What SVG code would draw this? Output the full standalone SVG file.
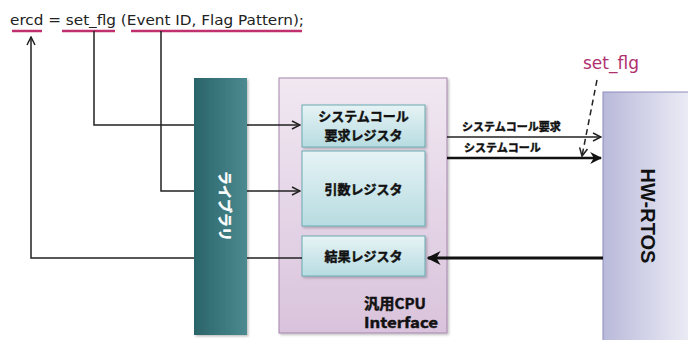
<svg xmlns="http://www.w3.org/2000/svg" width="688" height="340" viewBox="0 0 688 340">
<defs>
<linearGradient id="gLib" x1="0" y1="0" x2="1" y2="0"><stop offset="0" stop-color="#2a6469"/><stop offset="1" stop-color="#4b8a90"/></linearGradient>
<linearGradient id="gCpu" x1="0" y1="0" x2="0" y2="1"><stop offset="0" stop-color="#f1e8f2"/><stop offset="1" stop-color="#d9c3dc"/></linearGradient>
<linearGradient id="gReg" x1="0" y1="0" x2="0" y2="1"><stop offset="0" stop-color="#e6f3f5"/><stop offset="1" stop-color="#b7dce1"/></linearGradient>
<linearGradient id="gRtos" x1="0" y1="0" x2="1" y2="0"><stop offset="0" stop-color="#b9b9da"/><stop offset="1" stop-color="#eeeef7"/></linearGradient>
<marker id="aOpen" viewBox="0 0 10 10" refX="9" refY="5" markerWidth="10" markerHeight="10" markerUnits="userSpaceOnUse" orient="auto"><path d="M1,1 L9,5 L1,9" fill="none" stroke="#222" stroke-width="1.5"/></marker>
<marker id="aFill" viewBox="0 0 10 10" refX="9" refY="5" markerWidth="12" markerHeight="12" markerUnits="userSpaceOnUse" orient="auto"><path d="M0,0 L10,5 L0,10 L3,5 Z" fill="#111"/></marker>
<marker id="aBig" viewBox="0 0 10 10" refX="9" refY="5" markerWidth="14" markerHeight="14" markerUnits="userSpaceOnUse" orient="auto"><path d="M0,0 L10,5 L0,10 L3,5 Z" fill="#111"/></marker>
<filter id="sh" x="-10%" y="-10%" width="130%" height="130%"><feDropShadow dx="1.5" dy="1.5" stdDeviation="1" flood-color="#000" flood-opacity="0.25"/></filter>
</defs>
<style>
.jp{font-family:"Noto Sans CJK JP","Noto Sans",sans-serif;font-weight:bold;fill:#111;stroke:#111;stroke-width:0.45}
.code{font-family:Verdana,"DejaVu Sans",sans-serif;font-size:14.5px;fill:#222}
.ul{stroke:#c0306e;stroke-width:2.5}
.ln{fill:none;stroke:#222;stroke-width:1.5}
.reg{fill:url(#gReg);stroke:#6aabb2;stroke-width:1}
</style>
<g id="code">
<text class="code" x="10" y="25" textLength="294" lengthAdjust="spacingAndGlyphs">ercd = set_flg (Event ID, Flag Pattern);</text>
<line class="ul" x1="12" y1="31" x2="42" y2="31"/>
<line class="ul" x1="62" y1="31" x2="115" y2="31"/>
<line class="ul" x1="131" y1="31" x2="302" y2="31"/>
</g>
<g id="cpu">
<rect x="279" y="78" width="168" height="255" fill="url(#gCpu)" stroke="#a585ab" stroke-width="1" filter="url(#sh)"/>
<text class="jp" x="364" y="309" font-size="14.5" textLength="62" lengthAdjust="spacingAndGlyphs">汎用CPU</text>
<text class="jp" x="364" y="328" font-size="14.5" textLength="74" lengthAdjust="spacingAndGlyphs">Interface</text>
</g>
<g id="reg-req">
<rect class="reg" x="302" y="105" width="123" height="42" filter="url(#sh)"/>
<text class="jp" x="363.5" y="121" font-size="13" text-anchor="middle">システムコール</text>
<text class="jp" x="363.5" y="140" font-size="13" text-anchor="middle">要求レジスタ</text>
</g>
<g id="reg-arg">
<rect class="reg" x="302" y="151" width="123" height="75" filter="url(#sh)"/>
<text class="jp" x="363.5" y="194" font-size="13" text-anchor="middle">引数レジスタ</text>
</g>
<g id="reg-res">
<rect class="reg" x="302" y="236" width="123" height="40" filter="url(#sh)"/>
<text class="jp" x="363.5" y="261" font-size="13" text-anchor="middle">結果レジスタ</text>
</g>
<g id="hwrtos">
<rect x="603" y="92" width="90" height="252" fill="url(#gRtos)" stroke="#8c8cbb" stroke-width="1"/>
<text transform="translate(641,216) rotate(90)" text-anchor="middle" font-family="'Liberation Sans',Arial,sans-serif" font-weight="bold" font-size="20" fill="#111">HW-RTOS</text>
</g>
<g id="connectors">
<polyline class="ln" points="94,31 94,125 300,125" marker-end="url(#aOpen)"/>
<polyline class="ln" points="161,31 161,191 300,191" marker-end="url(#aOpen)"/>
<polyline class="ln" points="302,258 31,258 31,37" marker-end="url(#aOpen)"/>
<line class="ln" x1="447" y1="137" x2="601" y2="137" marker-end="url(#aOpen)"/>
<line x1="447" y1="158" x2="601" y2="158" stroke="#111" stroke-width="2.5" marker-end="url(#aFill)"/>
<line x1="603" y1="258" x2="428" y2="258" stroke="#111" stroke-width="3" marker-end="url(#aBig)"/>
<line x1="597" y1="80" x2="582" y2="156" stroke="#222" stroke-width="1.5" stroke-dasharray="6,4" marker-end="url(#aOpen)"/>
</g>
<g id="library">
<rect x="194" y="78" width="53" height="257" fill="url(#gLib)" filter="url(#sh)"/>
<text class="jp" transform="translate(220,206) rotate(90)" text-anchor="middle" font-size="14" style="fill:#fff;stroke:#fff">ライブラリ</text>
</g>
<g id="labels">
<text class="jp" x="462" y="131" font-size="11">システムコール要求</text>
<text class="jp" x="464" y="152" font-size="11">システムコール</text>
<text x="583" y="69" font-family="Verdana,'DejaVu Sans',sans-serif" font-size="17" fill="#b0306f">set_flg</text>
</g>
</svg>
